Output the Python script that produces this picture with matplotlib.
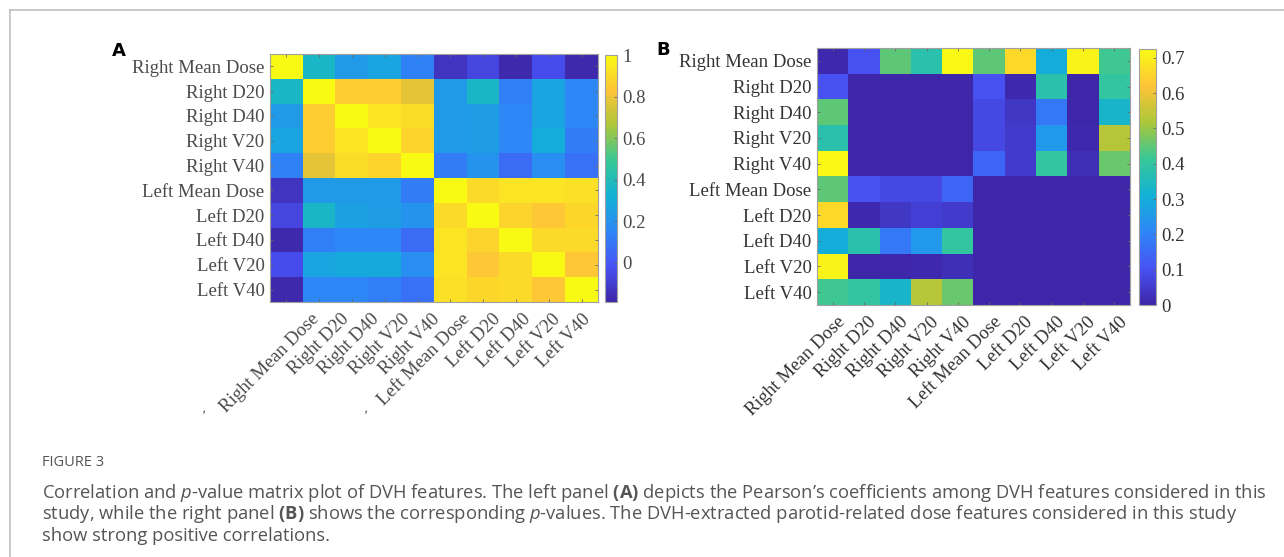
import numpy as np
import matplotlib
matplotlib.use("Agg")
import matplotlib.pyplot as plt
from matplotlib.colors import LinearSegmentedColormap
from matplotlib.lines import Line2D
from matplotlib.transforms import ScaledTranslation

features = ["Right Mean Dose", "Right D20", "Right D40", "Right V20", "Right V40",
            "Left Mean Dose", "Left D20", "Left D40", "Left V20", "Left V40"]

corr_r0 = [1.00, 0.36, 0.23, 0.27, 0.14, -0.13, -0.06, -0.18, -0.04, -0.18]
corr_r1 = [0.36, 1.00, 0.86, 0.86, 0.78, 0.23, 0.36, 0.13, 0.27, 0.15]
corr_r2 = [0.23, 0.86, 1.00, 0.93, 0.91, 0.23, 0.24, 0.15, 0.27, 0.15]
corr_r3 = [0.27, 0.86, 0.93, 1.00, 0.88, 0.23, 0.24, 0.15, 0.30, 0.12]
corr_r4 = [0.14, 0.78, 0.91, 0.88, 1.00, 0.12, 0.20, 0.06, 0.18, 0.08]
corr_r5 = [-0.13, 0.23, 0.23, 0.23, 0.12, 1.00, 0.90, 0.93, 0.93, 0.92]
corr_r6 = [-0.06, 0.36, 0.26, 0.24, 0.20, 0.90, 1.00, 0.88, 0.84, 0.89]
corr_r7 = [-0.18, 0.13, 0.15, 0.15, 0.06, 0.93, 0.88, 1.00, 0.90, 0.90]
corr_r8 = [-0.04, 0.27, 0.29, 0.29, 0.18, 0.93, 0.84, 0.90, 1.00, 0.84]
corr_r9 = [-0.18, 0.15, 0.15, 0.13, 0.08, 0.92, 0.89, 0.90, 0.84, 1.00]

p_r0 = [0.01, 0.10, 0.45, 0.38, 0.72, 0.45, 0.66, 0.30, 0.71, 0.42]
p_r1 = [0.10, 0.00, 0.00, 0.00, 0.00, 0.10, 0.01, 0.38, 0.00, 0.40]
p_r2 = [0.45, 0.00, 0.00, 0.00, 0.00, 0.08, 0.04, 0.18, 0.00, 0.33]
p_r3 = [0.38, 0.00, 0.00, 0.00, 0.00, 0.08, 0.05, 0.25, 0.01, 0.53]
p_r4 = [0.72, 0.00, 0.00, 0.00, 0.00, 0.14, 0.05, 0.40, 0.02, 0.46]
p_r5 = [0.45, 0.10, 0.08, 0.08, 0.14, 0.00, 0.00, 0.00, 0.00, 0.00]
p_r6 = [0.66, 0.01, 0.04, 0.06, 0.05, 0.00, 0.00, 0.00, 0.00, 0.00]
p_r7 = [0.30, 0.38, 0.18, 0.25, 0.40, 0.00, 0.00, 0.00, 0.00, 0.00]
p_r8 = [0.71, 0.00, 0.00, 0.01, 0.02, 0.00, 0.00, 0.00, 0.00, 0.00]
p_r9 = [0.42, 0.40, 0.33, 0.53, 0.46, 0.00, 0.00, 0.00, 0.00, 0.00]

corr_ticks = [0, 0.2, 0.4, 0.6, 0.8, 1]
p_ticks = [0, 0.1, 0.2, 0.3, 0.4, 0.5, 0.6, 0.7]

corr = np.array([corr_r0, corr_r1, corr_r2, corr_r3, corr_r4,
                 corr_r5, corr_r6, corr_r7, corr_r8, corr_r9])
pval = np.array([p_r0, p_r1, p_r2, p_r3, p_r4, p_r5, p_r6, p_r7, p_r8, p_r9])

parula = LinearSegmentedColormap.from_list("parula", [
    (0.2422, 0.1504, 0.6603),
    (0.2810, 0.3228, 0.9579),
    (0.1786, 0.5289, 0.9682),
    (0.0689, 0.6948, 0.8394),
    (0.2161, 0.7843, 0.5923),
    (0.6720, 0.7793, 0.2227),
    (0.9970, 0.7659, 0.2199),
    (0.9769, 0.9839, 0.0805)], N=256)

W, H = 1284, 557
fig = plt.figure(figsize=(W / 100, H / 100), dpi=100)

def fr(x0, y0, x1, y1):
    return [x0 / W, 1 - y1 / H, (x1 - x0) / W, (y1 - y0) / H]

serif = "Liberation Serif"
edge = "#a0a0a0"

def heat(rect, crect, data, vmin, vmax, ticks, lab_col, xshift):
    ax = fig.add_axes(rect)
    im = ax.imshow(data, cmap=parula, vmin=vmin, vmax=vmax, aspect="auto",
                   interpolation="nearest")
    n = len(features)
    ax.set_xticks(range(n))
    ax.set_yticks(range(n))
    ax.set_yticklabels(features, fontfamily=serif, fontsize=13.5, color=lab_col)
    ax.set_xticklabels(features, fontfamily=serif, fontsize=13.5, color=lab_col,
                       rotation=45, ha="right", va="top", rotation_mode="anchor")
    ax.tick_params(direction="in", length=2, width=0.6, color="#666666", pad=4,
                   top=True, right=True)
    ax.tick_params(axis="x", pad=6)
    for i, lab in enumerate(ax.get_xticklabels()):
        lab.set_transform(lab.get_transform() +
                          ScaledTranslation(xshift(i) / 100, 0, fig.dpi_scale_trans))
    for s in ax.spines.values():
        s.set_color(edge)
        s.set_linewidth(0.8)
    cax = fig.add_axes(crect)
    cb = fig.colorbar(im, cax=cax, ticks=ticks)
    cb.ax.set_yticklabels([("%g" % t) for t in ticks], fontfamily=serif,
                          fontsize=13.5, color=lab_col)
    cb.ax.tick_params(direction="in", length=2, width=0.6, color="#666666", pad=4)
    cb.outline.set_edgecolor(edge)
    cb.outline.set_linewidth(0.8)
    return ax

heat(fr(270, 54, 598, 302), fr(605, 55, 617, 302), corr, -0.19, 1.0, corr_ticks,
     "#4a4a4a", lambda i: 24 - 2.6 * i)
heat(fr(817, 48, 1130, 305), fr(1139, 49, 1156, 305), pval, 0.0, 0.725, p_ticks,
     "#333333", lambda i: 4)

fig.text(119 / W, 1 - 51 / H, "A", fontfamily="DejaVu Sans", fontweight="bold",
         fontsize=13, ha="center", va="center", color="black")
fig.text(663 / W, 1 - 50 / H, "B", fontfamily="DejaVu Sans", fontweight="bold",
         fontsize=13, ha="center", va="center", color="black")

# small stray marks under panel A
for xm in (202, 364):
    fig.text(xm / W, 1 - 416 / H, "'", fontfamily=serif, fontsize=10,
             color="#444444", ha="center", va="center", rotation=-20)

# frame lines
fig.add_artist(Line2D([10 / W, 1], [1 - 10 / H, 1 - 10 / H], color="#c0c0c0", lw=1.2))
fig.add_artist(Line2D([10 / W, 10 / W], [0, 1 - 10 / H], color="#c0c0c0", lw=1.2))

plt.rcParams["mathtext.fontset"] = "custom"
plt.rcParams["mathtext.it"] = "Open Sans:italic"
plt.rcParams["mathtext.bf"] = "Open Sans:bold"
plt.rcParams["mathtext.rm"] = "Open Sans"

capcol = "#555555"
fig.text(42 / W, 1 - 463 / H, "FIGURE 3", fontfamily="Open Sans", fontsize=10.5,
         color=capcol, ha="left", va="center")
lines = [
    r"Correlation and $p$-value matrix plot of DVH features. The left panel $\mathbf{(A)}$ depicts the Pearson’s coefficients among DVH features considered in this",
    r"study, while the right panel $\mathbf{(B)}$ shows the corresponding $p$-values. The DVH-extracted parotid-related dose features considered in this study",
    "show strong positive correlations.",
]
for y, t in zip([493, 514, 536], lines):
    fig.text(42 / W, 1 - y / H, t, fontfamily="Open Sans", fontsize=13.2,
             color=capcol, ha="left", va="center")

fig.savefig("out.png", dpi=100)
